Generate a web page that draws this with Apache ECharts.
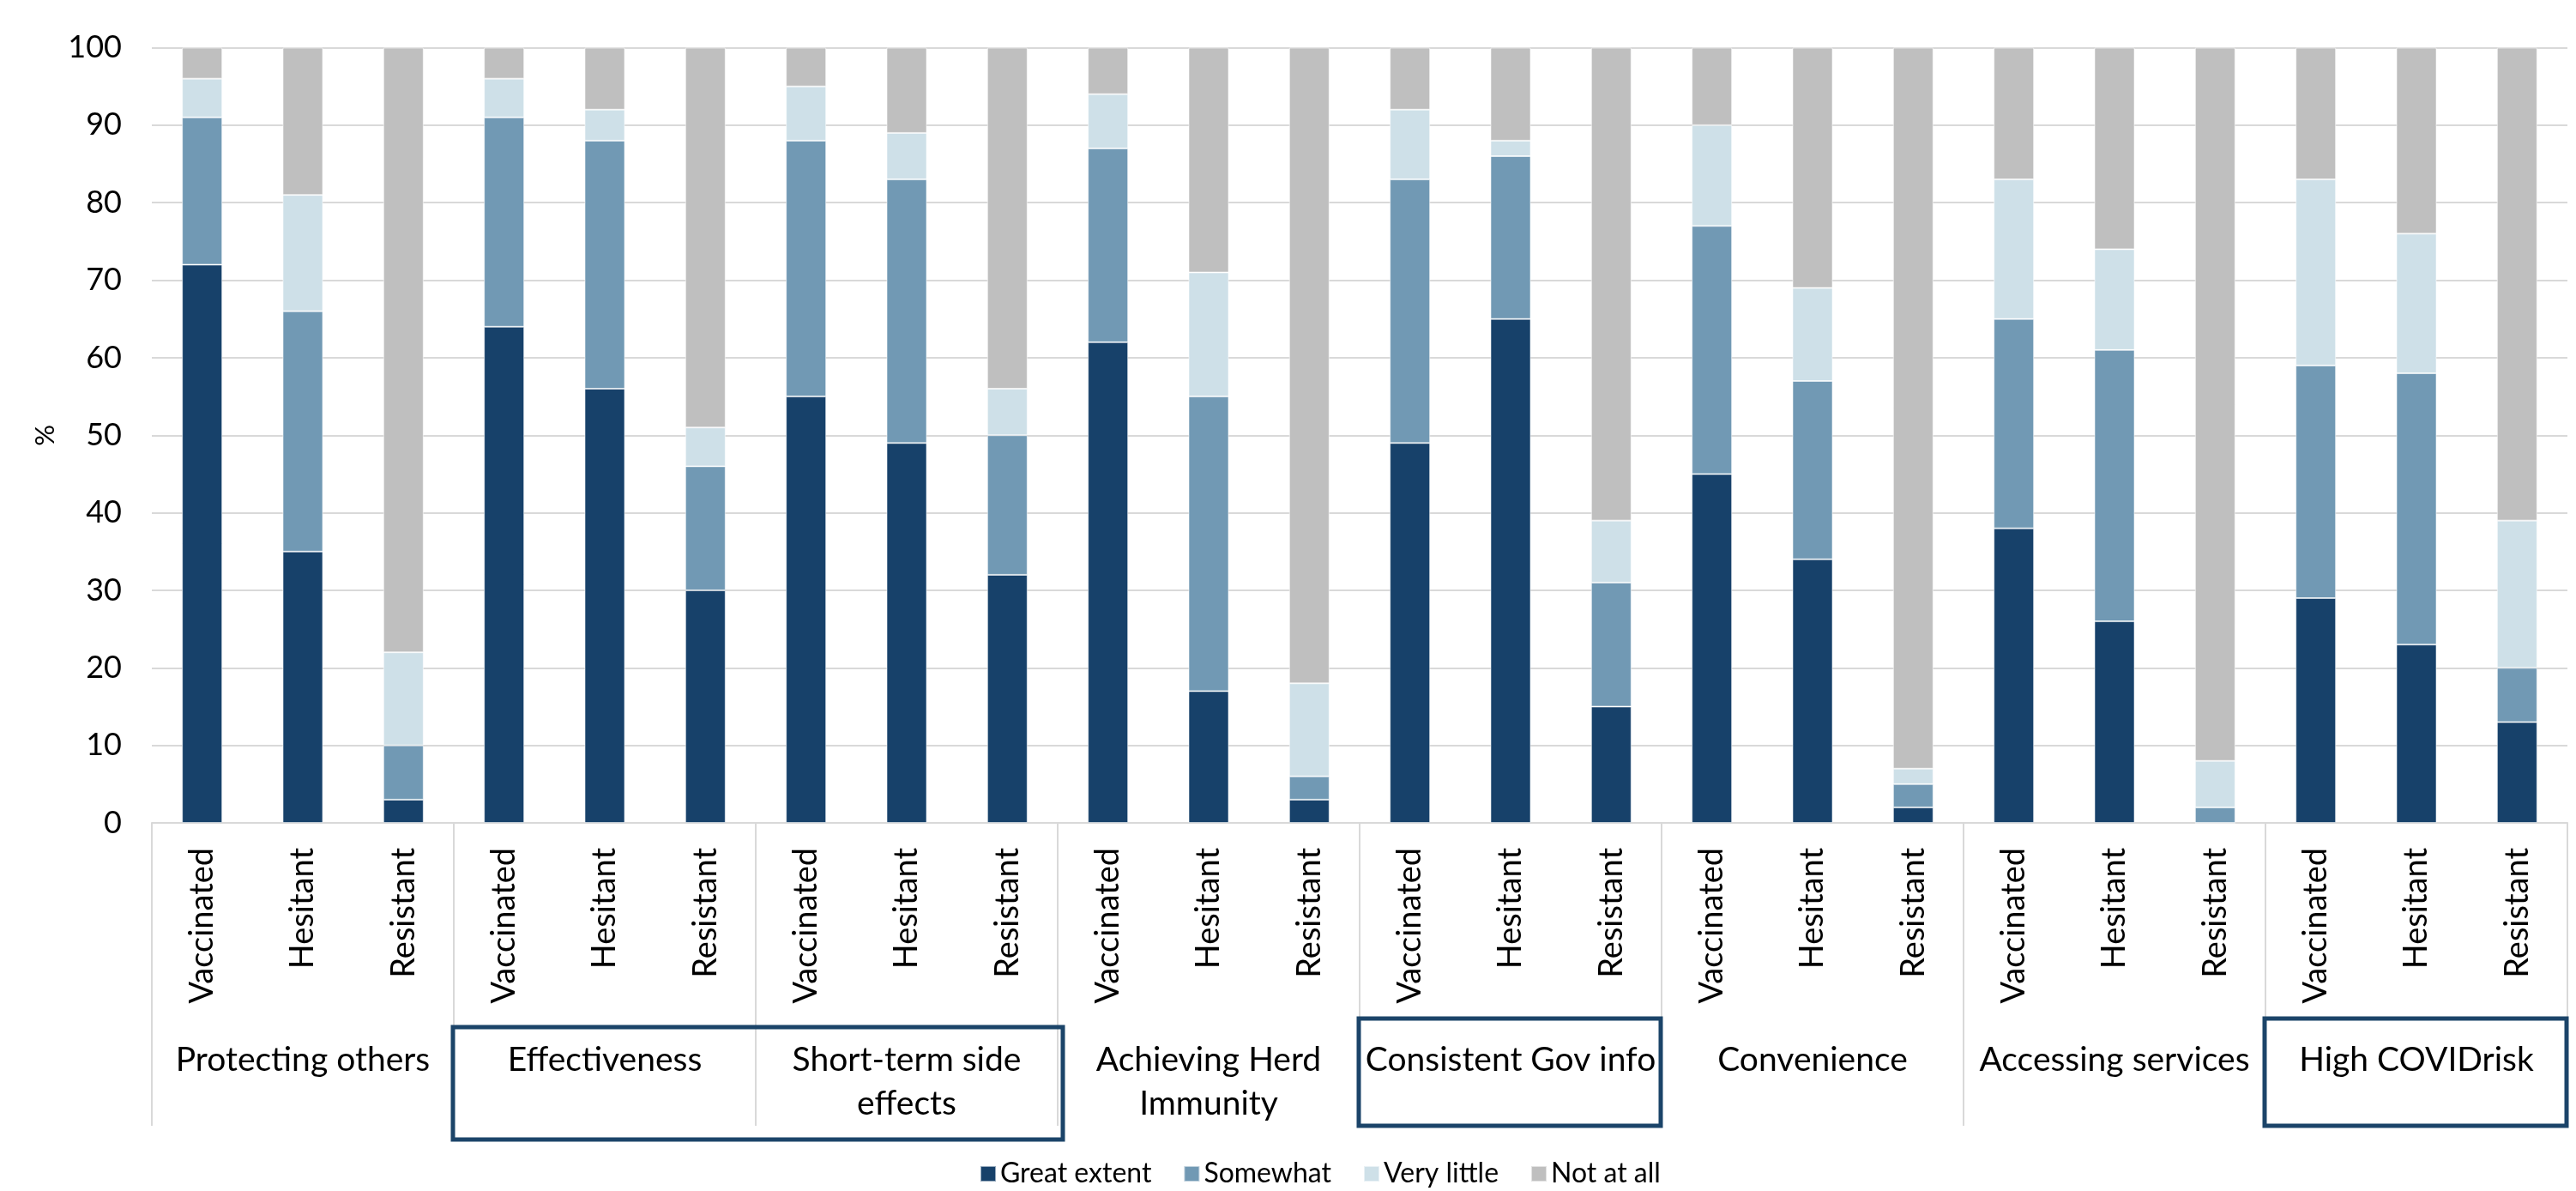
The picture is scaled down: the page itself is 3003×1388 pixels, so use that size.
<!DOCTYPE html>
<html>
<head>
<meta charset="utf-8">
<script src="https://cdn.jsdelivr.net/npm/echarts/dist/echarts.min.js"></script>
<style>
  html, body { margin: 0; padding: 0; background: #ffffff; }
  #chart { width: 3003px; height: 1388px; }
</style>
</head>
<body>
<div id="chart"></div>
<script>
// Reasons / motivations, each answered by three vaccination-status groups
const groups = ['Protecting others', 'Effectiveness', 'Short-term side\neffects', 'Achieving Herd\nImmunity',
                'Consistent Gov info', 'Convenience', 'Accessing services', 'High COVIDrisk'];
const statuses = ['Vaccinated', 'Hesitant', 'Resistant'];

// Share (%) answering each level, in group order, Vaccinated / Hesitant / Resistant
const greatExtent = [72, 35, 3,  64, 56, 30,  55, 49, 32,  62, 17, 3,  49, 65, 15,  45, 34, 2,  38, 26, 0,  29, 23, 13];
const somewhat    = [19, 31, 7,  27, 32, 16,  33, 34, 18,  25, 38, 3,  34, 21, 16,  32, 23, 3,  27, 35, 2,  30, 35, 7];
const veryLittle  = [5, 15, 12,  5, 4, 5,     7, 6, 6,     7, 16, 12,  9, 2, 8,     13, 12, 2,  18, 13, 6,  24, 18, 19];
const notAtAll    = [4, 19, 78,  4, 8, 49,    5, 11, 44,   6, 29, 82,  8, 12, 61,   10, 31, 93, 17, 26, 92, 17, 24, 61];

const levelNames = ['Great extent', 'Somewhat', 'Very little', 'Not at all'];
const levelValues = [greatExtent, somewhat, veryLittle, notAtAll];
const levelColors = ['#17416A', '#7199B4', '#CEE0E8', '#BFBFBF'];

const yTicks = { min: 0, max: 100, interval: 10 };

// Groups that are outlined with a frame below the axis (first..last group index)
const framedGroups = [[1, 2], [4, 4], [7, 7]];

const categories = [];
groups.forEach(function () { statuses.forEach(function (s) { categories.push(s); }); });

const FONT = 'Lato';
const chart = echarts.init(document.getElementById('chart'));

const series = levelNames.map(function (name, i) {
  return {
    name: name,
    type: 'bar',
    stack: 'total',
    xAxisIndex: 0,
    barWidth: 47,
    data: levelValues[i],
    itemStyle: { color: levelColors[i], borderColor: 'rgba(255,255,255,0.55)', borderWidth: 1 },
    emphasis: { disabled: true }
  };
});

chart.setOption({
  animation: false,
  backgroundColor: '#ffffff',
  textStyle: { fontFamily: FONT },
  grid: { left: 177, right: 10, top: 55.5, bottom: 429, containLabel: false, outerBoundsMode: 'none' },
  legend: {
    data: levelNames,
    left: 1142, top: 1352,
    padding: 0,
    itemWidth: 18, itemHeight: 18, itemGap: 37,
    icon: 'rect',
    textStyle: { fontFamily: FONT, fontSize: 32, color: '#000' }
  },
  xAxis: [
    {
      type: 'category',
      position: 'bottom',
      data: categories,
      axisLine: { show: true, lineStyle: { color: '#D9D9D9', width: 2 } },
      axisTick: { show: false },
      axisLabel: { interval: 0, rotate: 90, margin: 29, fontSize: 38, color: '#000', fontFamily: FONT },
      splitLine: { show: false }
    },
    {
      type: 'category',
      position: 'bottom',
      offset: 0,
      data: groups,
      axisLine: { show: false },
      axisTick: { show: true, length: 353, lineStyle: { color: '#D9D9D9', width: 2 } },
      axisLabel: { interval: 0, margin: 251, fontSize: 39, lineHeight: 51, color: '#000', fontFamily: FONT },
      splitLine: { show: false }
    }
  ],
  yAxis: {
    type: 'value',
    min: yTicks.min, max: yTicks.max, interval: yTicks.interval,
    name: '%',
    nameLocation: 'middle',
    nameRotate: 90,
    nameGap: 108,
    nameTextStyle: { fontSize: 31, color: '#000', fontFamily: FONT },
    axisLine: { show: false },
    axisTick: { show: false },
    axisLabel: { fontSize: 36, color: '#000', margin: 35, fontFamily: FONT },
    splitLine: { lineStyle: { color: '#D9D9D9', width: 2 } }
  },
  series: series
});

// Frames around highlighted groups, positioned from the category axis
function drawFrames() {
  const p0 = chart.convertToPixel({ xAxisIndex: 0 }, 0);
  const p1 = chart.convertToPixel({ xAxisIndex: 0 }, 1);
  const band = p1 - p0;
  const edge = function (i) { return p0 - band / 2 + i * band; };
  const y0 = chart.convertToPixel({ yAxisIndex: 0 }, 0);
  const elements = framedGroups.map(function (g, k) {
    const x1 = edge(g[0] * 3) - 1;
    const x2 = edge((g[1] + 1) * 3) + (k === 0 ? 6 : -1);
    const top = y0 + (k === 0 ? 238 : 228);
    const bottom = y0 + (k === 0 ? 369 : 353);
    return {
      type: 'rect',
      z: 100,
      shape: { x: x1, y: top, width: x2 - x1, height: bottom - top },
      style: { fill: null, stroke: '#1B4469', lineWidth: 5 }
    };
  });
  chart.setOption({ graphic: { elements: elements } });
}
drawFrames();
</script>
</body>
</html>
